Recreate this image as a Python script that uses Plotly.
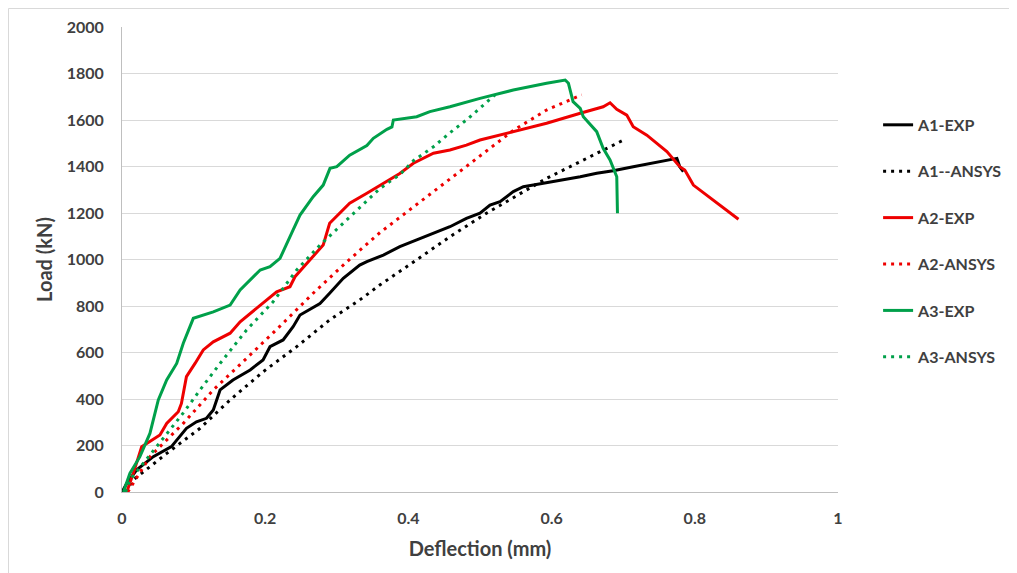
import plotly.graph_objects as go

# ---- data ----
a1_exp_x = [0, 0.0066, 0.0205, 0.0437, 0.069, 0.081, 0.090, 0.104, 0.118, 0.1275, 0.137, 0.155, 0.179,
            0.197, 0.2067, 0.225, 0.239, 0.2486, 0.2765, 0.29, 0.309, 0.332, 0.342, 0.365, 0.388, 0.4116,
            0.435, 0.458, 0.481, 0.5, 0.514, 0.528, 0.5465, 0.5605, 0.5745, 0.6024, 0.64, 0.663, 0.686,
            0.714, 0.742, 0.765, 0.775, 0.779, 0.784]
a1_exp_y = [0, 37, 95, 152, 195, 240, 274, 302, 317, 353, 439, 482, 525,
            568, 625, 654, 711, 761, 811, 855, 919, 976, 991, 1019, 1055, 1084,
            1113, 1141, 1177, 1199, 1234, 1249, 1292, 1313, 1320, 1335, 1356, 1371, 1382,
            1399, 1416, 1428, 1435, 1399, 1378]

a1_ansys_x = [0.005, 0.0158, 0.0624, 0.109, 0.151, 0.197, 0.244, 0.29, 0.332, 0.36, 0.3976, 0.458,
              0.509, 0.593, 0.7025]
a1_ansys_y = [0, 52, 166, 274, 396, 517, 625, 740, 826, 890, 969, 1098, 1199, 1349, 1517]

a2_exp_x = [0.0066, 0.0158, 0.0275, 0.039, 0.053, 0.0624, 0.0786, 0.083, 0.090, 0.102, 0.1135, 0.1275,
            0.151, 0.165, 0.188, 0.202, 0.216, 0.2346, 0.2416, 0.258, 0.281, 0.29, 0.318, 0.342, 0.365,
            0.388, 0.407, 0.421, 0.435, 0.458, 0.481, 0.5, 0.528, 0.5465, 0.593, 0.64, 0.672, 0.6816,
            0.691, 0.705, 0.714, 0.733, 0.761, 0.779, 0.786, 0.798, 0.826, 0.861]
a2_exp_y = [0, 80, 195, 216, 245, 295, 345, 381, 496, 553, 611, 646,
            683, 732, 790, 826, 861, 883, 926, 983, 1062, 1156, 1242, 1285, 1328,
            1370, 1414, 1435, 1457, 1471, 1492, 1514, 1535, 1550, 1586, 1629, 1657, 1674,
            1646, 1621, 1571, 1535, 1464, 1399, 1385, 1320, 1256, 1173]

a2_ansys_x = [0.008, 0.039, 0.0856, 0.1275, 0.174, 0.22, 0.267, 0.314, 0.36, 0.407, 0.4535, 0.5,
              0.5465, 0.593, 0.642]
a2_ansys_y = [0, 152, 295, 439, 575, 711, 855, 990, 1115, 1225, 1335, 1445, 1555, 1643, 1708]

a3_exp_x = [0.002, 0.011, 0.025, 0.039, 0.0507, 0.0624, 0.0764, 0.0856, 0.0996, 0.1275, 0.151, 0.165,
            0.193, 0.2067, 0.2207, 0.230, 0.239, 0.2486, 0.267, 0.281, 0.2905, 0.300, 0.318, 0.342,
            0.351, 0.370, 0.377, 0.379, 0.4116, 0.430, 0.458, 0.5, 0.528, 0.5465, 0.593, 0.619, 0.6235,
            0.630, 0.640, 0.6443, 0.663, 0.672, 0.6816, 0.691, 0.692]
a3_exp_y = [0, 80, 152, 252, 396, 482, 553, 640, 747, 775, 804, 869,
            955, 969, 1005, 1070, 1127, 1191, 1270, 1320, 1392, 1399, 1449, 1490,
            1521, 1560, 1570, 1600, 1614, 1636, 1657, 1693, 1715, 1729, 1758, 1772, 1758,
            1679, 1650, 1614, 1550, 1478, 1428, 1356, 1199]

a3_ansys_x = [0.005, 0.011, 0.039, 0.0856, 0.109, 0.137, 0.174, 0.211, 0.244, 0.2765, 0.300, 0.342,
              0.36, 0.388, 0.407, 0.435, 0.458, 0.481, 0.5, 0.521]
a3_ansys_y = [0, 52, 159, 340, 439, 553, 697, 818, 955, 1062, 1130, 1250,
              1305, 1365, 1425, 1485, 1545, 1600, 1650, 1708]

series = [
    ("A1-EXP", a1_exp_x, a1_exp_y, "#000000", "solid"),
    ("A1--ANSYS", a1_ansys_x, a1_ansys_y, "#000000", "dot"),
    ("A2-EXP", a2_exp_x, a2_exp_y, "#EE0000", "solid"),
    ("A2-ANSYS", a2_ansys_x, a2_ansys_y, "#EE0000", "dot"),
    ("A3-EXP", a3_exp_x, a3_exp_y, "#00A04A", "solid"),
    ("A3-ANSYS", a3_ansys_x, a3_ansys_y, "#00A04A", "dot"),
]

FONT = "Lato"
TXT = "#404040"

# the page has an 8px body margin, so the figure starts 8px in from the window edge
W, H = 1017, 573
ML, MT, PW, PH = 114, 19, 716, 465

fig = go.Figure()
for i, (name, xs, ys, col, style) in enumerate(series):
    dash = "solid" if style == "solid" else "3px,5px"
    fig.add_trace(go.Scatter(
        x=xs, y=ys, mode="lines", name=name, legendgroup=f"g{i}",
        line=dict(color=col, width=3, dash=dash),
    ))

fig.update_layout(
    width=W, height=H,
    margin=dict(l=ML, r=W - ML - PW, t=MT, b=H - MT - PH),
    paper_bgcolor="white", plot_bgcolor="white",
    font=dict(family=FONT, color=TXT),
    showlegend=True,
    legend=dict(
        x=1.056, xanchor="left", y=0.826, yanchor="top",
        font=dict(family=FONT, size=16, color=TXT, weight="bold"),
        traceorder="grouped", tracegroupgap=22.6,
        bgcolor="rgba(0,0,0,0)", itemwidth=30,
    ),
    xaxis=dict(
        range=[0, 1], dtick=0.2, tick0=0, automargin=False,
        showgrid=False, zeroline=False,
        showline=True, linecolor="#BFBFBF", linewidth=1,
        ticks="outside", ticklen=12, tickcolor="rgba(0,0,0,0)",
        tickfont=dict(family=FONT, size=16, color=TXT, weight="bold"),
        title=dict(text="Deflection (mm)", standoff=15,
                   font=dict(family=FONT, size=20, color=TXT, weight="bold")),
    ),
    yaxis=dict(
        range=[0, 2000], dtick=200, tick0=0, automargin=False,
        showgrid=True, gridcolor="#D9D9D9", gridwidth=1,
        zeroline=False,
        showline=True, linecolor="#BFBFBF", linewidth=1,
        ticks="outside", ticklen=14, tickcolor="rgba(0,0,0,0)",
        tickfont=dict(family=FONT, size=16, color=TXT, weight="bold"),
        title=dict(text="Load (kN)", standoff=8,
                   font=dict(family=FONT, size=20, color=TXT, weight="bold")),
    ),
    shapes=[dict(
        type="rect", xref="paper", yref="paper",
        x0=(0.5 - ML) / PW, x1=(W + 20 - ML) / PW,
        y0=(MT + PH - H - 20) / PH, y1=(MT + PH - 0.5) / PH,
        line=dict(color="#D9D9D9", width=1), layer="below",
    )],
)

fig.write_html("out.html")
